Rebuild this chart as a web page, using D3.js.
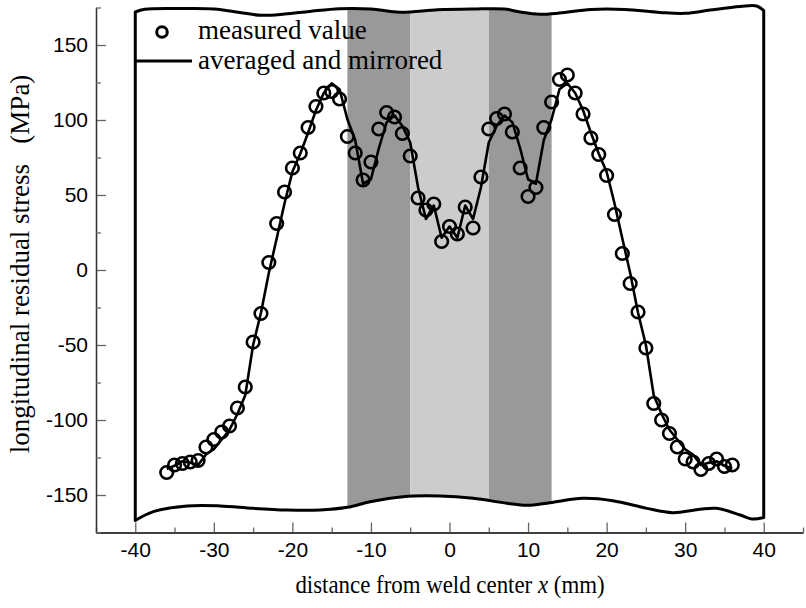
<!DOCTYPE html>
<html><head><meta charset="utf-8">
<script src="https://cdn.jsdelivr.net/npm/d3@7"></script>
<style>body{margin:0;background:#fff}svg{display:block}</style>
</head><body><svg id="c" width="806" height="608"></svg>
<script>
// ---- data (mm, MPa) ----
const measuredX = [-36,-35,-34,-33,-32,-31,-30,-29,-28,-27,-26,-25,-24,-23,-22,-21,-20,-19,-18,-17,-16,-15,-14,-13,-12,-11,-10,-9,-8,-7,-6,-5,-4,-3,-2,-1,0,1,2,3,4,5,6,7,8,9,10,11,12,13,14,15,16,17,18,19,20,21,22,23,24,25,26,27,28,29,30,31,32,33,34,35,36];
const measuredStress = [-135,-130,-129,-128,-127,-118,-113,-108,-104,-92,-78,-48,
  -29,5,31,52,68,78,95,109,118,119,114,89,
  78,60,72,94,105,102,91,76,48,40,44,19,
  29,
  24,42,28,62,94,101,104,92,68,49,55,95,
  112,127,130,118,104,88,77,63,37,11,-9,-28,
  -52,-89,-100,-109,-118,-126,-128,-133,-129,-126,-131,-130];
const averagedX = measuredX;
const averagedStress = [-132.5,-130.5,-127.5,-128.5,-130,-123,-119.5,-113,-106.5,-96,-83.5,-50,
  -28.5,-2,21,44.5,65.5,77.5,91.5,106.5,118,124.5,120.5,100.5,
  86.5,57.5,60.5,81,98.5,103,96,85,55,34,43,21.5,
  29,
  21.5,43,34,55,85,96,103,98.5,81,60.5,57.5,86.5,
  100.5,120.5,124.5,118,106.5,91.5,77.5,65.5,44.5,21,-2,-28.5,
  -50,-83.5,-96,-106.5,-113,-119.5,-123,-130,-128.5,-127.5,-130.5,-132.5];
// sample outline (wavy top and bottom edges)
const outlineTopX = [-40,-38.8,-34,-30,-26.7,-24,-21,-17.8,-14,-10,-6.3,-1.5,3,7,9,11.5,14,18,22.3,26.8,30,33.2,37,39.1,40];
const outlineTopY = [172,173.8,174.3,174,171.7,169.8,170.6,172.4,174.2,174,171.8,173.5,174,174,172,170.5,171.3,173.7,173.7,171.7,171.1,173.3,175.6,176,173];
const outlineBotX = [-40,-37.7,-33.4,-29.2,-25,-20.7,-16.5,-13,-10.1,-5.9,-1.2,3,7.3,9.9,12.8,17,20.8,25.1,28.4,31.9,34,37,38.5,40];
const outlineBotY = [-167,-161.1,-157.3,-157.3,-158.9,-160,-160,-158.2,-154.5,-151.1,-150.7,-152.2,-155.5,-156.9,-155.1,-152.2,-153.8,-158.9,-161.8,-159.5,-158.9,-163.3,-166,-165];
// zones
const zoneStart = [-13,-5,5];
const zoneEnd = [-5,5,13];
const zoneColor = ["#999999","#cccccc","#999999"];
const xTicks = [-40,-30,-20,-10,0,10,20,30,40];
const xMinor = [-45,-35,-25,-15,-5,5,15,25,35,45];
const yTicks = [-150,-100,-50,0,50,100,150];
const yMinor = [-175,-125,-75,-25,25,75,125,175];

// ---- scales ----
const svg = d3.select("#c");
const x = d3.scaleLinear().domain([-45,45]).range([96,803]);
const y = d3.scaleLinear().domain([-175,175]).range([532.5,7.5]);

// outline path
const topPts = outlineTopX.map((v,i)=>[v,outlineTopY[i]]);
const botPts = outlineBotX.map((v,i)=>[v,outlineBotY[i]]).reverse();
const edge = d3.line().x(d=>x(d[0])).y(d=>y(d[1])).curve(d3.curveCatmullRom.alpha(0.5));
const outlineD = edge(topPts) + edge(botPts).replace(/^M/,"L") + "Z";

svg.append("defs").append("clipPath").attr("id","clipS").append("path").attr("d",outlineD);

svg.append("g").attr("clip-path","url(#clipS)")
  .selectAll("rect").data(zoneStart).join("rect")
  .attr("x",(d)=>x(d)).attr("width",(d,i)=>x(zoneEnd[i])-x(d))
  .attr("y",y(180)).attr("height",y(-180)-y(180))
  .attr("fill",(d,i)=>zoneColor[i]);

svg.append("path").attr("d",outlineD).attr("fill","none").attr("stroke","#000").attr("stroke-width",3).attr("stroke-linejoin","round");

// axes
const fmt = d => String(d);
const gx = svg.append("g").attr("transform",`translate(0,${y(-175)})`)
  .call(d3.axisBottom(x).tickValues(xTicks).tickSizeInner(-10).tickSizeOuter(0).tickPadding(10).tickFormat(fmt));
const gxm = svg.append("g").attr("transform",`translate(0,${y(-175)})`)
  .call(d3.axisBottom(x).tickValues(xMinor).tickSizeInner(-5).tickSizeOuter(0).tickFormat(""));
const gy = svg.append("g").attr("transform",`translate(${x(-45)},0)`)
  .call(d3.axisLeft(y).tickValues(yTicks).tickSizeInner(-10).tickSizeOuter(0).tickPadding(8).tickFormat(fmt));
const gym = svg.append("g").attr("transform",`translate(${x(-45)},0)`)
  .call(d3.axisLeft(y).tickValues(yMinor).tickSizeInner(-5).tickSizeOuter(0).tickFormat(""));
[gx,gy,gxm,gym].forEach(g=>{
  g.select(".domain").attr("stroke","#333").attr("stroke-width",1.3);
  g.selectAll(".tick line").attr("stroke","#666").attr("stroke-width",1.3);
  g.selectAll(".tick text").attr("font-family","'Liberation Sans', Arial, sans-serif").attr("font-size",21).attr("fill","#000");
});

// averaged line
svg.append("path").datum(averagedX.map((v,i)=>[v,averagedStress[i]]))
  .attr("d",d3.line().x(d=>x(d[0])).y(d=>y(d[1])))
  .attr("fill","none").attr("stroke","#000").attr("stroke-width",2.6).attr("stroke-linejoin","round");

// measured points
svg.append("g").selectAll("circle").data(measuredX).join("circle")
  .attr("cx",d=>x(d)).attr("cy",(d,i)=>y(measuredStress[i])).attr("r",6.3)
  .attr("fill","none").attr("stroke","#000").attr("stroke-width",2.6);

// legend
const lg = svg.append("g").attr("font-family","'Liberation Serif','Times New Roman',serif").attr("font-size",27);
lg.append("circle").attr("cx",162).attr("cy",32).attr("r",5.3).attr("fill","none").attr("stroke","#000").attr("stroke-width",3);
lg.append("text").attr("x",198).attr("y",39).text("measured value");
lg.append("line").attr("x1",135).attr("x2",192).attr("y1",61).attr("y2",61).attr("stroke","#000").attr("stroke-width",2.8);
lg.append("text").attr("x",198).attr("y",69).text("averaged and mirrored");

// axis titles
const xt = svg.append("text").attr("transform","translate(450,593) scale(0.88,1)").attr("text-anchor","middle")
  .attr("font-family","'Liberation Serif','Times New Roman',serif").attr("font-size",26);
xt.append("tspan").text("distance from weld center ");
xt.append("tspan").attr("font-style","italic").text("x");
xt.append("tspan").text(" (mm)");
svg.append("text").attr("transform","translate(29,264) rotate(-90)").attr("text-anchor","middle")
  .attr("font-family","'Liberation Serif','Times New Roman',serif").attr("font-size",27)
  .attr("xml:space","preserve").style("white-space","pre")
  .text("longitudinal residual stress   (MPa)");
</script></body></html>
